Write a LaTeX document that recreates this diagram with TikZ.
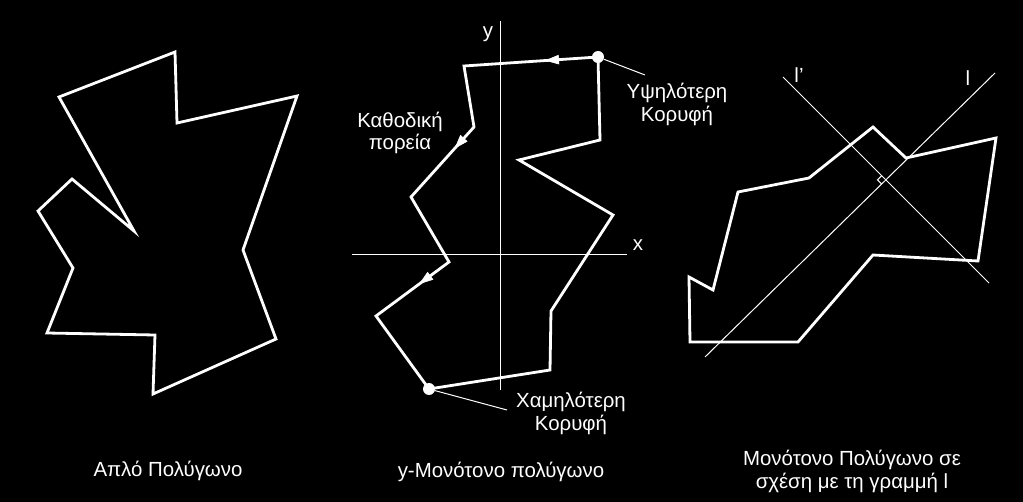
\documentclass[tikz,border=0pt]{standalone}
\usepackage{fontspec}
\setmainfont{Liberation Sans}
\usetikzlibrary{calc}
\begin{document}
\begin{tikzpicture}[x=1bp,y=-1bp,
  poly/.style={draw=white,line width=2.8bp,line join=miter},
  thinline/.style={draw=white,line width=1bp},
  lbl/.style={text=white,font=\fontsize{20.5}{23}\selectfont,inner sep=0pt,align=center},
  vdot/.style={circle,fill=white,inner sep=0pt,minimum size=12bp},
  headfill/.style={fill=white,draw=white,line width=0.5bp,line join=miter}]
\fill[black] (0,0) rectangle (1023,502);
\useasboundingbox (0,0) rectangle (1023,502);

% ---------- Simple polygon ----------
\coordinate (a1) at (175,52);
\coordinate (a2) at (177,123);
\coordinate (a3) at (297,96);
\coordinate (a4) at (243,250);
\coordinate (a5) at (276,339);
\coordinate (a6) at (153,394);
\coordinate (a7) at (155,335);
\coordinate (a8) at (47,333);
\coordinate (a9) at (73,268);
\coordinate (a10) at (38,211);
\coordinate (a11) at (72,179);
\coordinate (a12) at (134,231);
\coordinate (a13) at (59,97);
\draw[poly] (a1)--(a2)--(a3)--(a4)--(a5)--(a6)--(a7)--(a8)--(a9)--(a10)--(a11)--(a12)--(a13)--cycle;
\node[lbl,anchor=base] (cap1) at (168,476) {Απλό Πολύγωνο};

% ---------- y-monotone polygon ----------
\coordinate (yb) at (500,21);
\coordinate (yt) at (500,390);
\coordinate (xl) at (352,255);
\coordinate (xr) at (627,255);
\draw[thinline] (yb) -- (yt);
\draw[thinline] (xl) -- (xr);
\node[lbl,anchor=base] (ylab) at (488,38) {y};
\node[lbl,anchor=base] (xlab) at (638,251) {x};

\coordinate (b1) at (598,57);
\coordinate (b2) at (464,66);
\coordinate (b3) at (474,127);
\coordinate (b4) at (411,197);
\coordinate (b5) at (449,262);
\coordinate (b6) at (376,316);
\coordinate (b7) at (429,389);
\coordinate (b8) at (550,370);
\coordinate (b9) at (551,311);
\coordinate (b10) at (613,215);
\coordinate (b11) at (519,160);
\coordinate (b12) at (600,140);
\draw[poly] (b1)--(b2)--(b3)--(b4)--(b5)--(b6)--(b7)--(b8)--(b9)--(b10)--(b11)--(b12)--cycle;

% arrowheads along the descending chain
\coordinate (m1) at ($(b1)!0.39!(b2)$);
\coordinate (m1b) at ($(m1)!13bp!(b1)$);
\fill[headfill] (m1) -- ($(m1b)!4.5bp!90:(m1)$) -- ($(m1b)!4.5bp!-90:(m1)$) -- cycle;
\coordinate (m2) at ($(b3)!0.3!(b4)$);
\coordinate (m2b) at ($(m2)!13bp!(b3)$);
\fill[headfill] (m2) -- ($(m2b)!4.5bp!90:(m2)$) -- ($(m2b)!4.5bp!-90:(m2)$) -- cycle;
\coordinate (m3) at ($(b5)!0.4!(b6)$);
\coordinate (m3b) at ($(m3)!13bp!(b5)$);
\fill[headfill] (m3) -- ($(m3b)!4.5bp!90:(m3)$) -- ($(m3b)!4.5bp!-90:(m3)$) -- cycle;

\node[vdot] (top) at (b1) {};
\node[vdot] (bot) at (b7) {};
\coordinate (topend) at (645,75);
\coordinate (botend) at (507,410);
\draw[thinline] (top) -- (topend);
\draw[thinline] (bot) -- (botend);

\node[lbl,anchor=base] (hi1) at (677,99) {Υψηλότερη};
\node[lbl,anchor=base] (hi2) at (677,122) {Κορυφή};
\node[lbl,anchor=base] (lo1) at (571,407) {Χαμηλότερη};
\node[lbl,anchor=base] (lo2) at (571,430) {Κορυφή};
\node[lbl,anchor=base] (desc1) at (400,128) {Καθοδική};
\node[lbl,anchor=base] (desc2) at (400,150) {πορεία};
\node[lbl,anchor=base] (cap2) at (501,477) {y-Μονότονο πολύγωνο};

% ---------- Monotone w.r.t. line l ----------
\coordinate (c1) at (873,127);
\coordinate (c2) at (906,158);
\coordinate (c3) at (996,138);
\coordinate (c4) at (978,261);
\coordinate (c5) at (873,255);
\coordinate (c6) at (798,342);
\coordinate (c7) at (690,342);
\coordinate (c8) at (689,277);
\coordinate (c9) at (713,290);
\coordinate (c10) at (738,192);
\coordinate (c11) at (809,178);
\draw[poly] (c1)--(c2)--(c3)--(c4)--(c5)--(c6)--(c7)--(c8)--(c9)--(c10)--(c11)--cycle;

\coordinate (lA) at (705,357);
\coordinate (lB) at (995,73);
\coordinate (lC) at (783,77);
\coordinate (lD) at (989,283);
\draw[thinline] (lA) -- (lB);
\draw[thinline] (lC) -- (lD);
\coordinate (P) at (intersection of lA--lB and lC--lD);
\coordinate (Q1) at ($(P)!6bp!(lC)$);
\coordinate (Q2) at ($(P)!6bp!(lA)$);
\coordinate (Q3) at ($(Q1)+(Q2)-(P)$);
\draw[thinline] (Q1) -- (Q3) -- (Q2);
\node[lbl,anchor=base] (lplab) at (799,83) {l’};
\node[lbl,anchor=base] (llab) at (968,86) {l};

\node[lbl,anchor=base] (cap3a) at (852,465) {Μονότονο Πολύγωνο σε};
\node[lbl,anchor=base] (cap3b) at (852,488) {σχέση με τη γραμμή l};
\end{tikzpicture}
\end{document}
